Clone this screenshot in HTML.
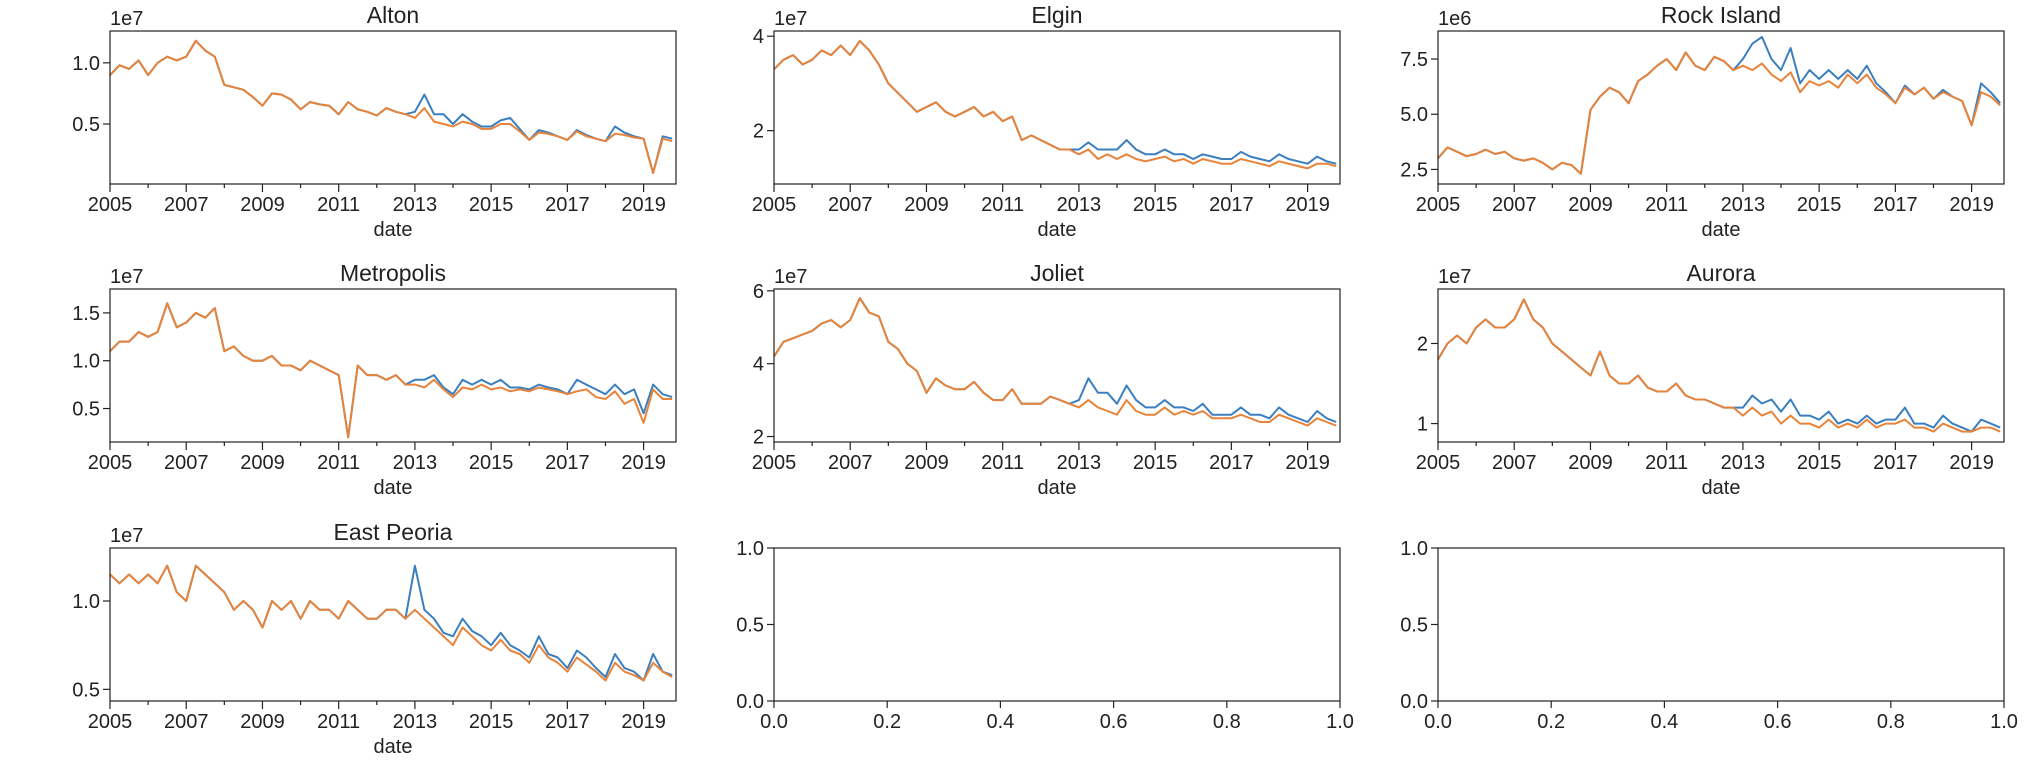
<!DOCTYPE html>
<html><head><meta charset="utf-8"><style>
body{margin:0;background:#fff;}
svg text{font-family:"Liberation Sans","DejaVu Sans",sans-serif;fill:#222;}
</style></head><body>
<svg id="fig" width="2042" height="770" xmlns="http://www.w3.org/2000/svg"></svg>
<script>
const yearTicks=[2005,2007,2009,2011,2013,2015,2017,2019];
const emptyTicks=[0,0.2,0.4,0.6,0.8,1.0];
const emptyTickLabels=["0.0","0.2","0.4","0.6","0.8","1.0"];
const emptyYTicks=[0,0.5,1.0];

const altonOrange=[0.9,0.98,0.95,1.02,0.9,1.0,1.05,1.02,1.05,1.18,1.1,1.05,0.82,0.8,0.78,0.72,0.65,0.75,0.74,0.7,0.62,0.68,0.66,0.65,0.58,0.68,0.62,0.6,0.57,0.63,0.6,0.58,0.55,0.63,0.52,0.5,0.48,0.52,0.5,0.46,0.46,0.5,0.5,0.44,0.37,0.43,0.42,0.4,0.37,0.44,0.4,0.38,0.36,0.42,0.41,0.39,0.38,0.1,0.38,0.36];
const altonBlue=altonOrange.slice(0,32).concat([0.6,0.74,0.58,0.58,0.5,0.58,0.52,0.48,0.48,0.53,0.55,0.46,0.37,0.45,0.43,0.4,0.37,0.45,0.41,0.38,0.36,0.48,0.43,0.4,0.38,0.1,0.4,0.38]);

const elginOrange=[3.3,3.5,3.6,3.4,3.5,3.7,3.6,3.8,3.6,3.9,3.7,3.4,3.0,2.8,2.6,2.4,2.5,2.6,2.4,2.3,2.4,2.5,2.3,2.4,2.2,2.3,1.8,1.9,1.8,1.7,1.6,1.6,1.5,1.6,1.4,1.5,1.4,1.5,1.4,1.35,1.4,1.45,1.35,1.4,1.3,1.4,1.35,1.3,1.3,1.4,1.35,1.3,1.25,1.35,1.3,1.25,1.2,1.3,1.3,1.25];
const elginBlue=elginOrange.slice(0,32).concat([1.6,1.75,1.6,1.6,1.6,1.8,1.6,1.5,1.5,1.6,1.5,1.5,1.4,1.5,1.45,1.4,1.4,1.55,1.45,1.4,1.35,1.5,1.4,1.35,1.3,1.45,1.35,1.3]);

const rockOrange=[3.0,3.5,3.3,3.1,3.2,3.4,3.2,3.3,3.0,2.9,3.0,2.8,2.5,2.8,2.7,2.3,5.2,5.8,6.2,6.0,5.5,6.5,6.8,7.2,7.5,7.0,7.8,7.2,7.0,7.6,7.4,7.0,7.2,7.0,7.3,6.8,6.5,6.9,6.0,6.5,6.3,6.5,6.2,6.8,6.4,6.8,6.2,5.9,5.5,6.2,5.9,6.2,5.7,6.0,5.8,5.6,4.5,6.0,5.8,5.4];
const rockBlue=rockOrange.slice(0,32).concat([7.5,8.2,8.5,7.5,7.0,8.0,6.4,7.0,6.6,7.0,6.6,7.0,6.6,7.2,6.4,6.0,5.5,6.3,5.9,6.2,5.7,6.1,5.8,5.6,4.5,6.4,6.0,5.5]);

const metroOrange=[1.1,1.2,1.2,1.3,1.25,1.3,1.6,1.35,1.4,1.5,1.45,1.55,1.1,1.15,1.05,1.0,1.0,1.05,0.95,0.95,0.9,1.0,0.95,0.9,0.85,0.2,0.95,0.85,0.85,0.8,0.85,0.75,0.75,0.72,0.8,0.7,0.62,0.72,0.7,0.75,0.7,0.72,0.68,0.7,0.68,0.72,0.7,0.68,0.65,0.68,0.7,0.62,0.6,0.68,0.55,0.6,0.35,0.7,0.6,0.6];
const metroBlue=metroOrange.slice(0,32).concat([0.8,0.8,0.85,0.72,0.65,0.8,0.75,0.8,0.75,0.8,0.72,0.72,0.7,0.75,0.72,0.7,0.65,0.8,0.75,0.7,0.65,0.75,0.65,0.7,0.45,0.75,0.65,0.62]);

const jolietOrange=[4.2,4.6,4.7,4.8,4.9,5.1,5.2,5.0,5.2,5.8,5.4,5.3,4.6,4.4,4.0,3.8,3.2,3.6,3.4,3.3,3.3,3.5,3.2,3.0,3.0,3.3,2.9,2.9,2.9,3.1,3.0,2.9,2.8,3.0,2.8,2.7,2.6,3.0,2.7,2.6,2.6,2.8,2.6,2.7,2.6,2.7,2.5,2.5,2.5,2.6,2.5,2.4,2.4,2.6,2.5,2.4,2.3,2.5,2.4,2.3];
const jolietBlue=jolietOrange.slice(0,32).concat([3.0,3.6,3.2,3.2,2.9,3.4,3.0,2.8,2.8,3.0,2.8,2.8,2.7,2.9,2.6,2.6,2.6,2.8,2.6,2.6,2.5,2.8,2.6,2.5,2.4,2.7,2.5,2.4]);

const auroraOrange=[1.8,2.0,2.1,2.0,2.2,2.3,2.2,2.2,2.3,2.55,2.3,2.2,2.0,1.9,1.8,1.7,1.6,1.9,1.6,1.5,1.5,1.6,1.45,1.4,1.4,1.5,1.35,1.3,1.3,1.25,1.2,1.2,1.1,1.2,1.1,1.15,1.0,1.1,1.0,1.0,0.95,1.05,0.95,1.0,0.95,1.05,0.95,1.0,1.0,1.05,0.95,0.95,0.9,1.0,0.95,0.9,0.9,0.95,0.95,0.9];
const auroraBlue=auroraOrange.slice(0,32).concat([1.2,1.35,1.25,1.3,1.15,1.3,1.1,1.1,1.05,1.15,1.0,1.05,1.0,1.1,1.0,1.05,1.05,1.2,1.0,1.0,0.95,1.1,1.0,0.95,0.9,1.05,1.0,0.95]);

const peoriaOrange=[1.15,1.1,1.15,1.1,1.15,1.1,1.2,1.05,1.0,1.2,1.15,1.1,1.05,0.95,1.0,0.95,0.85,1.0,0.95,1.0,0.9,1.0,0.95,0.95,0.9,1.0,0.95,0.9,0.9,0.95,0.95,0.9,0.95,0.9,0.85,0.8,0.75,0.85,0.8,0.75,0.72,0.78,0.72,0.7,0.65,0.75,0.68,0.65,0.6,0.68,0.64,0.6,0.55,0.65,0.6,0.58,0.55,0.65,0.6,0.57];
const peoriaBlue=peoriaOrange.slice(0,32).concat([1.2,0.95,0.9,0.82,0.8,0.9,0.83,0.8,0.75,0.82,0.75,0.72,0.68,0.8,0.7,0.68,0.62,0.72,0.68,0.62,0.57,0.7,0.62,0.6,0.55,0.7,0.6,0.58]);

const panels=[
 {name:"Alton",blue:altonBlue,orange:altonOrange,ymin:0.01,ymax:1.26,ticks:[0.5,1.0],labels:["0.5","1.0"],exp:"1e7"},
 {name:"Elgin",blue:elginBlue,orange:elginOrange,ymin:0.87,ymax:4.11,ticks:[2,4],labels:["2","4"],exp:"1e7"},
 {name:"Rock Island",blue:rockBlue,orange:rockOrange,ymin:1.84,ymax:8.77,ticks:[2.5,5.0,7.5],labels:["2.5","5.0","7.5"],exp:"1e6"},
 {name:"Metropolis",blue:metroBlue,orange:metroOrange,ymin:0.15,ymax:1.75,ticks:[0.5,1.0,1.5],labels:["0.5","1.0","1.5"],exp:"1e7"},
 {name:"Joliet",blue:jolietBlue,orange:jolietOrange,ymin:1.85,ymax:6.05,ticks:[2,4,6],labels:["2","4","6"],exp:"1e7"},
 {name:"Aurora",blue:auroraBlue,orange:auroraOrange,ymin:0.77,ymax:2.68,ticks:[1,2],labels:["1","2"],exp:"1e7"},
 {name:"East Peoria",blue:peoriaBlue,orange:peoriaOrange,ymin:0.434,ymax:1.30,ticks:[0.5,1.0],labels:["0.5","1.0"],exp:"1e7"}
];
const NS="http://www.w3.org/2000/svg";
const fig=document.getElementById('fig');
function mk(tag,attrs,parent,txt){const e=document.createElementNS(NS,tag);for(const k in attrs)e.setAttribute(k,attrs[k]);if(txt!==undefined)e.textContent=txt;parent.appendChild(e);return e;}
const lefts=[110,774,1438],tops=[31,289,548],W=566,H=153,X0=2005,X1=2019.85;
function slug(s){return s.toLowerCase().replace(/ /g,'-');}
for(let p=0;p<9;p++){
 const L=lefts[p%3],T=tops[Math.floor(p/3)];
 const g=mk('g',{},fig);
 const P=panels[p];
 
 
 if(P){
  const sx=v=>L+(v-X0)/(X1-X0)*W, sy=v=>T+H-(v-P.ymin)/(P.ymax-P.ymin)*H;
  const t=mk('text',{x:L+W/2,y:T-8,'text-anchor':'middle','font-size':23},g,P.name);
  
  
  const e=mk('text',{x:L,y:T-6,'font-size':20},g,P.exp);
  
  
  [['blue','#3b7fbf'],['orange','#e8833a']].forEach(([k,c])=>{
   const d=P[k].map((v,i)=>(i?'L':'M')+sx(X0+i*0.25).toFixed(1)+','+sy(v).toFixed(1)).join('');
   const pl=mk('path',{d:d,fill:'none',stroke:c,'stroke-width':2,'stroke-linejoin':'round'},g);
   
   
  });
  for(let y=2005;y<=2019;y++){
   const x=sx(y);mk('line',{x1:x,x2:x,y1:T+H,y2:T+H+(y%2?8:4),stroke:'#222','stroke-width':1.2},g);
  }
  yearTicks.forEach(y=>{const tl=mk('text',{x:sx(y),y:T+H+27,'text-anchor':'middle','font-size':20},g,y);
   
   });
  P.ticks.forEach((v,i)=>{const y=sy(v);mk('line',{x1:L-7,x2:L,y1:y,y2:y,stroke:'#222','stroke-width':1.2},g);
   const tl=mk('text',{x:L-10,y:y+7,'text-anchor':'end','font-size':20},g,P.labels[i]);
   
   });
  const xl=mk('text',{x:L+W/2,y:T+H+52,'text-anchor':'middle','font-size':20},g,'date');
  
  
 } else {
  emptyTicks.forEach((v,i)=>{const x=L+v*W;mk('line',{x1:x,x2:x,y1:T+H,y2:T+H+7,stroke:'#222','stroke-width':1.2},g);
   const tl=mk('text',{x:x,y:T+H+27,'text-anchor':'middle','font-size':20},g,emptyTickLabels[i]);
   
   });
  emptyYTicks.forEach(v=>{const y=T+H-v*H;mk('line',{x1:L-7,x2:L,y1:y,y2:y,stroke:'#222','stroke-width':1.2},g);
   const tl=mk('text',{x:L-10,y:y+7,'text-anchor':'end','font-size':20},g,v.toFixed(1));
   
   });
 }
 const fr=mk('rect',{x:L,y:T,width:W,height:H,fill:'none',stroke:'#222','stroke-width':1.2},g);
 
 
}
</script>
</body></html>
